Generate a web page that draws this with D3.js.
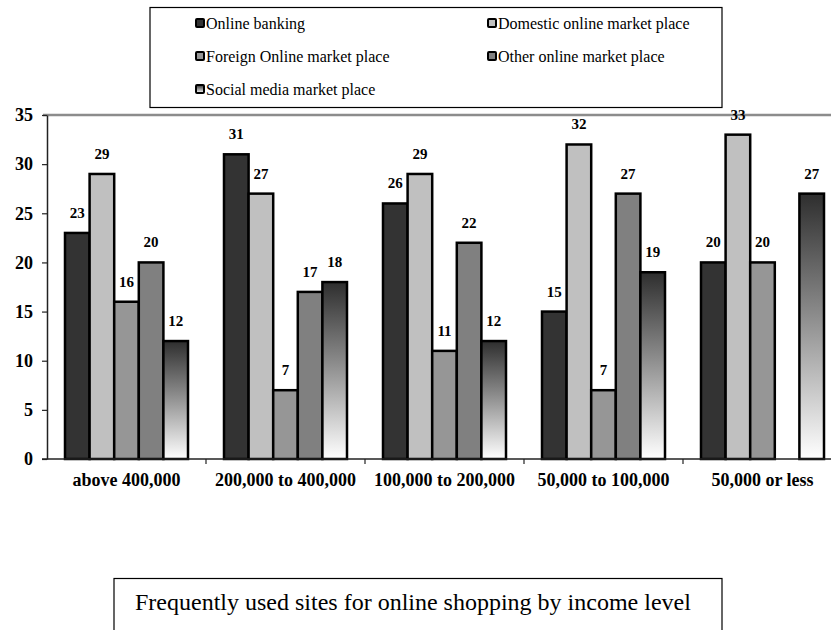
<!DOCTYPE html>
<html>
<head>
<meta charset="utf-8">
<script src="https://cdn.jsdelivr.net/npm/d3@7"></script>
<style>
  html, body { margin: 0; padding: 0; background: #fff; }
  svg { display: block; }
  svg text { font-family: "Times New Roman", Tinos, Times, serif; fill: #000; }
</style>
</head>
<body>
<svg id="chart" width="831" height="630"></svg>
<script>
// Income groups along the x axis
const categories = ["above 400,000", "200,000 to 400,000", "100,000 to 200,000", "50,000 to 100,000", "50,000 or less"];

// Series names (legend order)
const seriesNames = [
  "Online banking",
  "Domestic online market place",
  "Foreign Online market place",
  "Other online market place",
  "Social media market place"
];

// Values per series, one per income group (null = no bar)
const onlineBanking   = [23, 31, 26, 15, 20];
const domesticMarket  = [29, 27, 29, 32, 33];
const foreignMarket   = [16, 7, 11, 7, 20];
const otherMarket     = [20, 17, 22, 27, null];
const socialMarket    = [12, 18, 12, 19, 27];

const yTicks = [0, 5, 10, 15, 20, 25, 30, 35];
const titleText = "Frequently used sites for online shopping by income level";

const seriesValues = [onlineBanking, domesticMarket, foreignMarket, otherMarket, socialMarket];
const fills = ["#333333", "#c0c0c0", "#969696", "#808080", "url(#socialGrad)"];

const svg = d3.select("#chart");

// gradient for the social media series
const defs = svg.append("defs");
const grad = defs.append("linearGradient")
  .attr("id", "socialGrad").attr("x1", 0).attr("y1", 0).attr("x2", 0).attr("y2", 1);
grad.append("stop").attr("offset", "0%").attr("stop-color", "#2e2e2e");
grad.append("stop").attr("offset", "45%").attr("stop-color", "#8a8a8a");
grad.append("stop").attr("offset", "100%").attr("stop-color", "#ffffff");

// plot area
const plotLeft = 47, plotTop = 115, plotBottom = 459, groupW = 159;
const x = d3.scaleBand().domain(categories)
  .range([plotLeft, plotLeft + groupW * categories.length]).paddingInner(0).paddingOuter(0);
const xs = d3.scaleBand().domain(d3.range(seriesNames.length))
  .range([18, groupW - 18]).paddingInner(0).paddingOuter(0);
const y = d3.scaleLinear().domain([0, 35]).range([plotBottom, plotTop]);

// top border of plot area
svg.append("line")
  .attr("x1", plotLeft - 4).attr("x2", 831).attr("y1", plotTop).attr("y2", plotTop)
  .attr("stroke", "#8c8c8c").attr("stroke-width", 2.5);

// bars
const rows = [];
categories.forEach((c, ci) => {
  seriesValues.forEach((vals, si) => {
    if (vals[ci] !== null) rows.push({ c, si, v: vals[ci] });
  });
});

const barG = svg.append("g");
barG.selectAll("rect").data(rows).join("rect")
  .attr("x", d => x(d.c) + xs(d.si))
  .attr("y", d => y(d.v))
  .attr("width", xs.bandwidth())
  .attr("height", d => y(0) - y(d.v))
  .attr("fill", d => fills[d.si])
  .attr("stroke", "#000")
  .attr("stroke-width", 2.5);

// value labels
barG.selectAll("text").data(rows).join("text")
  .attr("x", d => x(d.c) + xs(d.si) + xs.bandwidth() / 2)
  .attr("y", d => y(d.v) - 15)
  .attr("text-anchor", "middle")
  .style("font-weight", "bold").style("font-size", "15px")
  .text(d => d.v);

// y axis
const yAxis = d3.axisLeft(y).tickValues(yTicks).tickSize(5).tickSizeOuter(0).tickPadding(9);
const yg = svg.append("g").attr("transform", `translate(${plotLeft},0)`).call(yAxis);
yg.attr("font-family", null).attr("font-size", null);
yg.select(".domain").attr("stroke", "#222").attr("stroke-width", 1.5);
yg.selectAll(".tick line").attr("stroke", "#222").attr("stroke-width", 1.2);
yg.selectAll(".tick text")
  .style("font-weight", "bold").style("font-size", "18px");

// x axis: category labels, with ticks on the group boundaries
const xAxis = d3.axisBottom(x).tickSize(0).tickSizeOuter(0).tickPadding(14);
const xg = svg.append("g").attr("transform", `translate(0,${plotBottom})`).call(xAxis);
xg.attr("font-family", null).attr("font-size", null);
xg.select(".domain").remove();
xg.selectAll(".tick text")
  .style("font-weight", "bold").style("font-size", "18px");
svg.append("line")
  .attr("x1", plotLeft - 5).attr("x2", 831).attr("y1", plotBottom).attr("y2", plotBottom)
  .attr("stroke", "#222").attr("stroke-width", 1.5);
svg.append("g").selectAll("line").data(categories.slice(1)).join("line")
  .attr("x1", d => x(d)).attr("x2", d => x(d))
  .attr("y1", plotBottom).attr("y2", plotBottom + 5)
  .attr("stroke", "#222").attr("stroke-width", 1.2);

// legend
const legend = svg.append("g");
legend.append("rect")
  .attr("x", 150).attr("y", 7.5).attr("width", 572).attr("height", 100)
  .attr("fill", "#fff").attr("stroke", "#000").attr("stroke-width", 1.2);
const legPos = [[195, 24], [487, 24], [195, 57], [487, 57], [195, 90]];
const li = legend.selectAll("g.item").data(seriesNames).join("g")
  .attr("class", "item")
  .attr("transform", (d, i) => `translate(${legPos[i][0]},${legPos[i][1]})`);
li.append("rect")
  .attr("x", 1).attr("y", -5).attr("width", 8).attr("height", 8)
  .attr("fill", (d, i) => fills[i]).attr("stroke", "#000").attr("stroke-width", 2).attr("rx", 1);
li.append("text")
  .attr("x", 11).attr("y", 5)
  .style("font-size", "16px")
  .text(d => d);

// caption box
svg.append("rect")
  .attr("x", 114).attr("y", 578.5).attr("width", 608).attr("height", 60)
  .attr("fill", "#fff").attr("stroke", "#000").attr("stroke-width", 1.2);
svg.append("text")
  .attr("x", 135).attr("y", 610)
  .style("font-size", "24px")
  .text(titleText);
</script>
</body>
</html>
